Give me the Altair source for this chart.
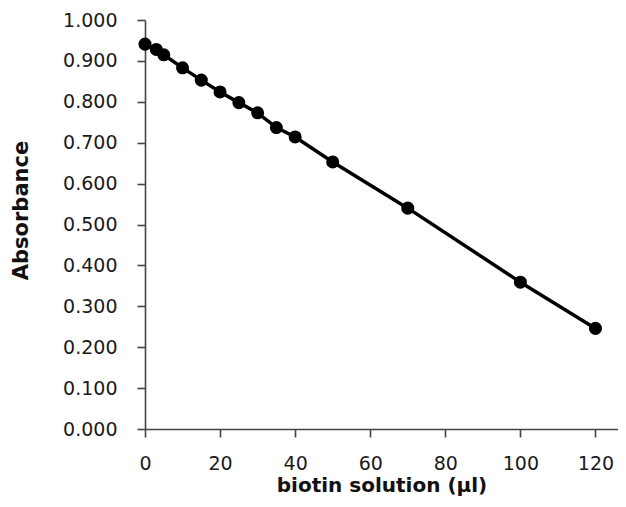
import altair as alt
import pandas as pd

# Data
volume_ul = [0, 3, 5, 10, 15, 20, 25, 30, 35, 40, 50, 70, 100, 120]
absorbance = [0.941, 0.928, 0.915, 0.883, 0.853, 0.824, 0.798, 0.773,
              0.737, 0.714, 0.653, 0.540, 0.359, 0.246]
x_ticks = [0, 20, 40, 60, 80, 100, 120]
y_ticks = [0.0, 0.1, 0.2, 0.3, 0.4, 0.5, 0.6, 0.7, 0.8, 0.9, 1.0]

df = pd.DataFrame({"volume": volume_ul, "absorbance": absorbance})

x_enc = alt.X(
    "volume:Q",
    scale=alt.Scale(domain=[0, 126], nice=False, zero=False),
    axis=alt.Axis(
        title="biotin solution (µl)",
        values=x_ticks,
        grid=False,
        tickSize=8,
        labelPadding=17,
        titlePadding=2,
        labelFontSize=19,
        titleFontSize=20,
        labelFont="DejaVu Sans",
        titleFont="DejaVu Sans",
        titleFontWeight="bold",
        labelColor="#1a1a1a",
        titleColor="#111111",
        domainColor="#444444",
        tickColor="#444444",
        domainWidth=1.6,
        tickWidth=1.6,
        labelFlush=False,
    ),
)
y_enc = alt.Y(
    "absorbance:Q",
    scale=alt.Scale(domain=[0, 1], nice=False),
    axis=alt.Axis(
        title="Absorbance",
        values=y_ticks,
        format=".3f",
        grid=False,
        tickSize=8,
        labelPadding=20,
        labelFontSize=19,
        titleFontSize=21,
        labelFont="DejaVu Sans",
        titleFont="DejaVu Sans",
        titleFontWeight="bold",
        labelColor="#1a1a1a",
        titleColor="#111111",
        domainColor="#444444",
        tickColor="#444444",
        domainWidth=1.6,
        tickWidth=1.6,
        titleX=-114,
        titleY=190,
        labelFlush=False,
    ),
)

base = alt.Chart(df).encode(x=x_enc, y=y_enc)
line = base.mark_line(color="#000000", strokeWidth=3.5)
points = base.mark_circle(color="#000000", opacity=1, size=170)

chart = (
    (line + points)
    .properties(
        width=473,
        height=409,
        padding={"left": 137, "top": 12, "right": 0, "bottom": 70},
        autosize=alt.AutoSizeParams(type="none"),
        background="white",
    )
    .configure_view(stroke=None)
)

chart.save("out.html", embed_options={"renderer": "svg", "actions": False})
